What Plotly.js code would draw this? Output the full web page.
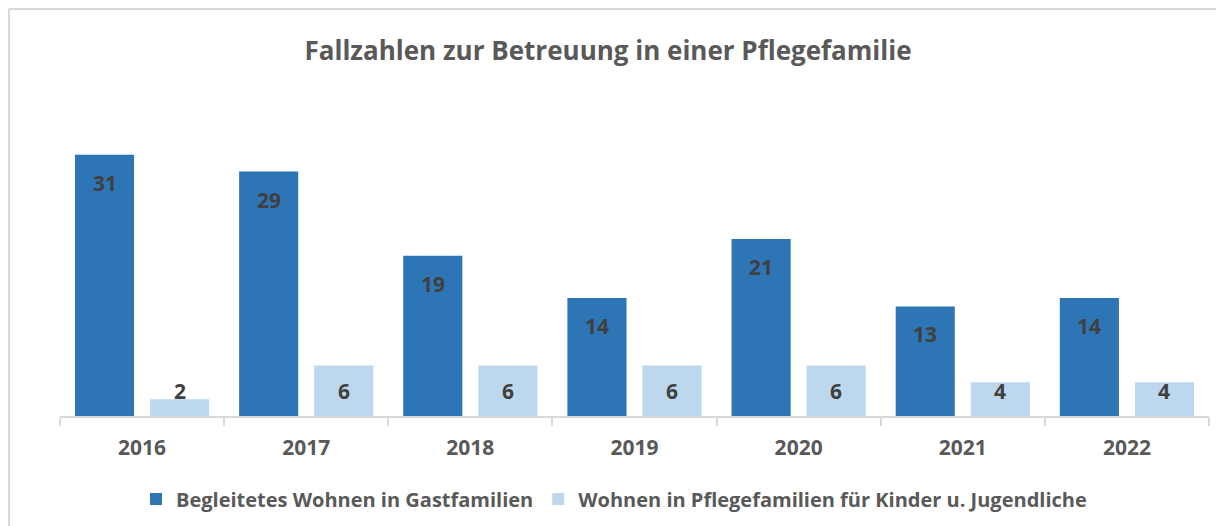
<!DOCTYPE html>
<html>
<head>
<meta charset="utf-8">
<script src="https://cdn.plot.ly/plotly-3.0.1.min.js"></script>
<style>
  html, body { margin: 0; padding: 0; background: #ffffff; }
  #chart { width: 1216px; height: 526px; }
</style>
</head>
<body>
<div id="chart"></div>
<script>
const years = ["2016", "2017", "2018", "2019", "2020", "2021", "2022"];
const gastfamilien = [31, 29, 19, 14, 21, 13, 14];
const pflegefamilien = [2, 6, 6, 6, 6, 4, 4];
const seriesNames = ["Begleitetes Wohnen in Gastfamilien", "Wohnen in Pflegefamilien für Kinder u. Jugendliche"];
const titleText = "Fallzahlen zur Betreuung in einer Pflegefamilie";

const W = 1216, H = 526;
const M = { l: 60, r: 7, t: 121, b: 110 };
const plotW = W - M.l - M.r, plotH = H - M.t - M.b;
const FONT = "'Open Sans', 'DejaVu Sans', sans-serif";
const darkBlue = "#2e75b6", lightBlue = "#bdd7ee";
const labelColor = "#404040", textGray = "#595959", lineGray = "#d9d9d9";

const bargap = 0.085, bargroupgap = 0.213;
const slot = (1 - bargap) / 2;
const off = slot / 2;

const traces = [
  { type: "bar", name: seriesNames[0], x: years, y: gastfamilien,
    marker: { color: darkBlue }, hoverinfo: "skip" },
  { type: "bar", name: seriesNames[1], x: years, y: pflegefamilien,
    marker: { color: lightBlue }, hoverinfo: "skip" }
];

const annotations = [];
years.forEach((yr, i) => {
  annotations.push({ x: i - off, y: gastfamilien[i], xref: "x", yref: "y",
    text: String(gastfamilien[i]), showarrow: false, yshift: -28,
    font: { family: FONT, size: 21, color: labelColor, weight: "bold" } });
  annotations.push({ x: i + off, y: 0, xref: "x", yref: "y",
    text: String(pflegefamilien[i]), showarrow: false, yshift: 25,
    font: { family: FONT, size: 21, color: labelColor, weight: "bold" } });
});

// frame lines (top and left) at pixel 9
const px = v => (v - M.l) / plotW;
const py = v => (H - M.b - v) / plotH;
const shapes = [
  { type: "line", xref: "paper", yref: "paper", x0: px(9), x1: px(W + 10), y0: py(9), y1: py(9),
    line: { color: lineGray, width: 2 } },
  { type: "line", xref: "paper", yref: "paper", x0: px(9), x1: px(9), y0: py(9), y1: py(H + 10),
    line: { color: lineGray, width: 2 } }
];

const layout = {
  width: W, height: H,
  margin: M,
  paper_bgcolor: "#ffffff", plot_bgcolor: "#ffffff",
  barmode: "group", bargap: bargap, bargroupgap: bargroupgap,
  title: { text: titleText, x: 0.5, xref: "container", xanchor: "center",
    y: 1 - 51 / H, yref: "container", yanchor: "middle",
    font: { family: FONT, size: 26, color: textGray, weight: "bold" } },
  xaxis: { type: "category", showline: true, linecolor: lineGray, linewidth: 2,
    ticks: "outside", tickson: "boundaries", ticklen: 8, tickcolor: lineGray, tickwidth: 2,
    showgrid: false, zeroline: false, ticklabelstandoff: 12,
    tickfont: { family: FONT, size: 21, color: textGray, weight: "bold" } },
  yaxis: { range: [0, 35], visible: false, showgrid: false, zeroline: false },
  showlegend: true,
  legend: { orientation: "h", x: (614 - M.l) / plotW, xanchor: "center",
    y: py(499), yanchor: "middle", itemwidth: 30,
    font: { family: FONT, size: 20, color: textGray, weight: "bold" } },
  annotations: annotations,
  shapes: shapes
};

Plotly.newPlot("chart", traces, layout, { displayModeBar: false, staticPlot: true });
</script>
</body>
</html>
